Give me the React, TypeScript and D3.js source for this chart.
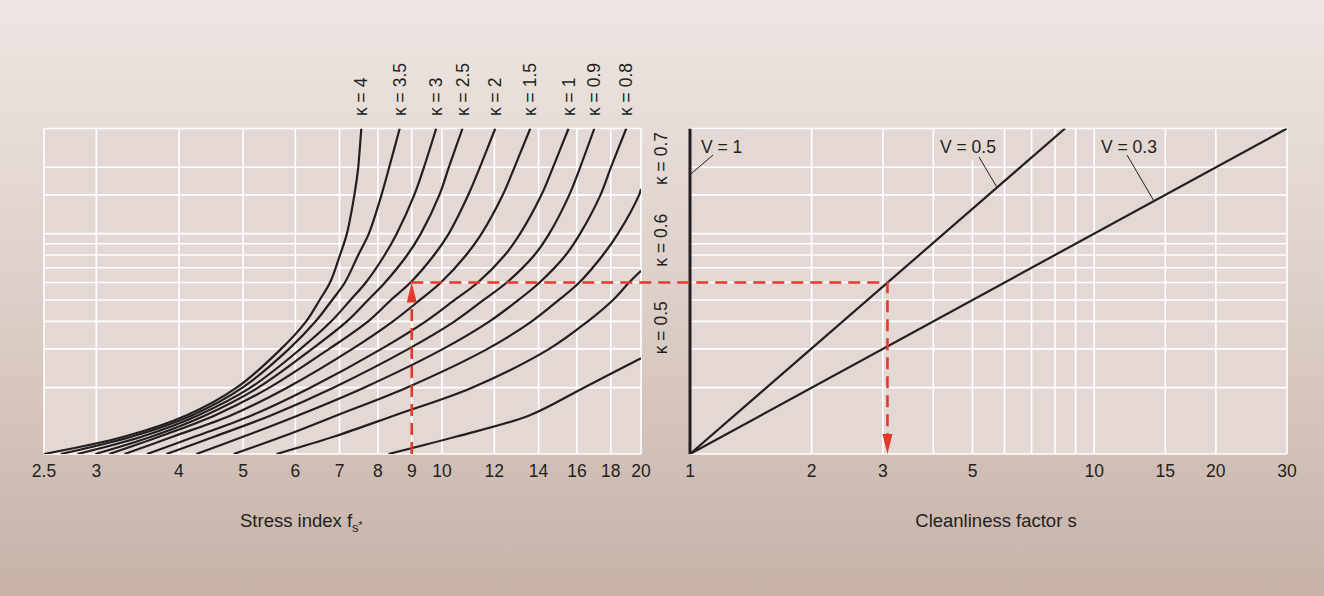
import React from 'react';
import * as d3 from 'd3';

// ---------- data ----------
const stressTicks = [2.5, 3, 4, 5, 6, 7, 8, 9, 10, 12, 14, 16, 18, 20];
const cleanTicks = [1, 2, 3, 5, 10, 15, 20, 30];
const cleanGrid = [1, 2, 3, 4, 5, 6, 7, 8, 9, 10, 15, 20, 30];
const yGrid = [1, 2, 3, 4, 5, 6, 7, 8, 9, 10, 15, 20, 30];

// κ curves: [stress index f_s*, ordinate]
const kappa4 = [[2.5, 1], [3.31, 1.2], [4.11, 1.5], [4.89, 2], [5.71, 3], [6.23, 4], [6.53, 5], [6.77, 6], [7.01, 8], [7.18, 10], [7.37, 15], [7.47, 20], [7.55, 30]];
const kappa35 = [[2.65, 1], [3.4, 1.2], [4.19, 1.5], [4.99, 2], [5.87, 3], [6.44, 4], [6.82, 5], [7.13, 6], [7.47, 8], [7.75, 10], [8.1, 15], [8.32, 20], [8.63, 30]];
const kappa3 = [[2.81, 1], [3.52, 1.2], [4.28, 1.5], [5.13, 2], [6.11, 3], [6.8, 4], [7.27, 5], [7.67, 6], [8.19, 8], [8.54, 10], [9.08, 15], [9.39, 20], [9.8, 30]];
const kappa25 = [[2.99, 1], [3.64, 1.2], [4.39, 1.5], [5.27, 2], [6.36, 3], [7.18, 4], [7.73, 5], [8.2, 6], [8.86, 8], [9.29, 10], [9.91, 15], [10.24, 20], [10.74, 30]];
const kappa2 = [[3.14, 1], [3.74, 1.2], [4.54, 1.5], [5.48, 2], [6.75, 3], [7.73, 4], [8.37, 5], [8.96, 6], [9.73, 8], [10.24, 10], [10.96, 15], [11.41, 20], [12.04, 30]];
const kappa15 = [[3.31, 1], [3.92, 1.2], [4.8, 1.5], [5.83, 2], [7.32, 3], [8.43, 4], [9.26, 5], [9.96, 6], [10.88, 8], [11.48, 10], [12.36, 15], [12.87, 20], [13.6, 30]];
const kappa1 = [[3.58, 1], [4.23, 1.2], [5.16, 1.5], [6.32, 2], [8.1, 3], [9.45, 4], [10.45, 5], [11.33, 6], [12.45, 8], [13.13, 10], [14.14, 15], [14.72, 20], [15.54, 30]];
const kappa09 = [[3.83, 1], [4.53, 1.2], [5.52, 1.5], [6.85, 2], [8.9, 3], [10.45, 4], [11.56, 5], [12.53, 6], [13.8, 8], [14.53, 10], [15.58, 15], [16.18, 20], [17.0, 30]];
const kappa08 = [[4.25, 1], [5.01, 1.2], [6.07, 1.5], [7.62, 2], [10.04, 3], [11.8, 4], [13.05, 5], [14.05, 6], [15.39, 8], [16.18, 10], [17.37, 15], [18.01, 20], [19.0, 30]];
const kappa07 = [[4.84, 1], [5.74, 1.2], [6.94, 1.5], [8.84, 2], [11.72, 3], [13.67, 4], [15.02, 5], [16.13, 6], [17.52, 8], [18.46, 10], [19.87, 15], [20, 15.94]];
const kappa06 = [[5.62, 1], [6.87, 1.2], [8.49, 1.5], [11.1, 2], [14.53, 3], [16.62, 4], [18.14, 5], [19.18, 6], [20, 6.79]];
const kappa05 = [[8.3, 1], [10.52, 1.2], [13.58, 1.5], [16.39, 2], [20, 2.72]];

const kappaNames = ['4', '3.5', '3', '2.5', '2', '1.5', '1', '0.9', '0.8', '0.7', '0.6', '0.5'];
const kappaCurves = [kappa4, kappa35, kappa3, kappa25, kappa2, kappa15, kappa1, kappa09, kappa08, kappa07, kappa06, kappa05];

// V lines: [cleanliness factor s, ordinate]
const vNames = ['1', '0.5', '0.3'];
const vLine1 = [[1, 1], [1, 30]];
const vLine05 = [[1, 1], [8.47, 30]];
const vLine03 = [[1, 1], [30, 30]];
const vLines = [vLine1, vLine05, vLine03];

// worked example
const exampleStress = 9;
const exampleOrdinate = 6;
const exampleClean = 3.08;

// ---------- layout ----------
const W = 1324;
const H = 596;
const LX0 = 44, LX1 = 641, RX0 = 690, RX1 = 1287;
const YT = 128.5, YB = 454;

const xL = d3.scaleLog().domain([2.5, 20]).range([LX0, LX1]);
const xR = d3.scaleLog().domain([1, 30]).range([RX0, RX1]);
const y = d3.scaleLog().domain([1, 30]).range([YB, YT]);

const INK = '#231f20';
const RED = '#e3392b';
const PLOT = '#e4d8d4';
const FONT = "'Liberation Sans', Arial, Helvetica, sans-serif";

const curveGen = d3
  .line<number[]>()
  .x((d) => xL(d[0]))
  .y((d) => y(d[1]))
  .curve(d3.curveCatmullRom.alpha(0.5));

const vGen = d3
  .line<number[]>()
  .x((d) => xR(d[0]))
  .y((d) => y(d[1]));

// point on a V line at a given s (straight in log-log)
function vAt(line: number[][], s: number): [number, number] {
  const [a, b] = line;
  if (a[0] === b[0]) return [xR(a[0]), y(s)];
  const t = (Math.log(s) - Math.log(a[0])) / (Math.log(b[0]) - Math.log(a[0]));
  const v = Math.exp(Math.log(a[1]) + t * (Math.log(b[1]) - Math.log(a[1])));
  return [xR(s), y(v)];
}

export default function App() {
  const fs = 17.5;
  const vAnn = [
    { tx: 701, ty: 153, lx: 713, ly: 155, target: [xR(1), y(18.5)] as [number, number] },
    { tx: 940, ty: 153, lx: 979, ly: 157, target: vAt(vLine05, 5.75) },
    { tx: 1101, ty: 153, lx: 1127, ly: 155, target: vAt(vLine03, 14.06) },
  ];

  const ax = xL(exampleStress);
  const ay = y(exampleOrdinate);
  const bx = xR(exampleClean);
  const ab = y(1);
  const arrowL = 20, arrowW = 5;

  return (
    <svg
      width={W}
      height={H}
      style={{ position: 'absolute', left: 0, top: 0 }}
      fontFamily={FONT}
    >
      <defs>
        <linearGradient id="bg" x1="0" y1="0" x2="0" y2="1">
          <stop offset="0" stopColor="#ede6e2" />
          <stop offset="0.5" stopColor="#ddcfc9" />
          <stop offset="1" stopColor="#c6b2a7" />
        </linearGradient>
        <clipPath id="clipL">
          <rect x={LX0} y={YT} width={LX1 - LX0} height={YB - YT} />
        </clipPath>
        <clipPath id="clipR">
          <rect x={RX0 - 2} y={YT} width={RX1 - RX0 + 2} height={YB - YT} />
        </clipPath>
      </defs>
      <rect x={0} y={0} width={W} height={H} fill="url(#bg)" />

      <rect x={LX0} y={YT} width={LX1 - LX0} height={YB - YT} fill={PLOT} />
      <rect x={RX0} y={YT} width={RX1 - RX0} height={YB - YT} fill={PLOT} />

      <g stroke="#ffffff" strokeWidth={1.6}>
        {stressTicks.map((t) => (
          <line key={'lv' + t} x1={xL(t)} x2={xL(t)} y1={YT} y2={YB} />
        ))}
        {yGrid.map((t) => (
          <line key={'lh' + t} x1={LX0} x2={LX1} y1={y(t)} y2={y(t)} />
        ))}
        {cleanGrid.map((t) => (
          <line key={'rv' + t} x1={xR(t)} x2={xR(t)} y1={YT} y2={YB} />
        ))}
        {yGrid.map((t) => (
          <line key={'rh' + t} x1={RX0} x2={RX1} y1={y(t)} y2={y(t)} />
        ))}
      </g>

      <g clipPath="url(#clipL)" fill="none" stroke={INK} strokeWidth={2.2}>
        {kappaCurves.map((c, i) => (
          <path key={'k' + i} d={curveGen(c) || ''} />
        ))}
      </g>

      <g fill={INK} fontSize={fs}>
        {kappaCurves.map((c, i) => {
          const last = c[c.length - 1];
          const top = last[1] >= 30;
          const px = top ? xL(last[0]) : 661;
          const py = top ? 116 : y(last[1]) - 4;
          return (
            <text key={'kl' + i} transform={`translate(${px},${py}) rotate(-90)`} dy="0.35em" textAnchor="start">
              {'κ = ' + kappaNames[i]}
            </text>
          );
        })}
      </g>

      {vAnn.map((a, i) => (
        <rect key={'vb' + i} x={a.tx - 3} y={YT + 1} width={vNames[i].length * 9.7 + 36} height={31} fill={PLOT} />
      ))}

      <g clipPath="url(#clipR)" fill="none" stroke={INK}>
        {vLines.map((l, i) => (
          <path key={'v' + i} d={vGen(l) || ''} strokeWidth={i === 0 ? 3 : 2.2} />
        ))}
      </g>

      <g fill={INK} fontSize={fs}>
        {vAnn.map((a, i) => (
          <g key={'va' + i}>
            <text x={a.tx} y={a.ty}>{'V = ' + vNames[i]}</text>
            <line x1={a.lx} y1={a.ly} x2={a.target[0]} y2={a.target[1]} stroke={INK} strokeWidth={1} />
          </g>
        ))}
      </g>

      <g>
        <path
          d={`M${ax},${ab} V${ay} H${bx} V${ab - 4}`}
          fill="none"
          stroke={RED}
          strokeWidth={2.6}
          strokeDasharray="12 7"
        />
        <path d={`M${ax},${ay} L${ax - arrowW},${ay + arrowL} L${ax + arrowW},${ay + arrowL} Z`} fill={RED} />
        <path d={`M${bx},${ab} L${bx - arrowW},${ab - arrowL} L${bx + arrowW},${ab - arrowL} Z`} fill={RED} />
      </g>

      <g fill={INK} fontSize={fs} textAnchor="middle">
        {stressTicks.map((t) => (
          <text key={'tl' + t} x={xL(t)} y={477}>
            {String(t)}
          </text>
        ))}
        {cleanTicks.map((t) => (
          <text key={'tr' + t} x={xR(t)} y={477}>
            {String(t)}
          </text>
        ))}
      </g>

      <g fill={INK} fontSize={18.5}>
        <text x={240} y={527}>
          Stress index f
          <tspan fontSize={13} dy={5}>s</tspan>
          <tspan fontSize={10} dy={-3}>*</tspan>
        </text>
        <text x={996} y={527} textAnchor="middle">
          Cleanliness factor s
        </text>
      </g>
    </svg>
  );
}
